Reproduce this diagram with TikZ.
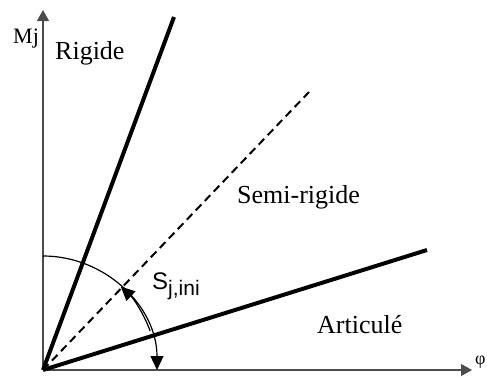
\documentclass[tikz,border=0pt]{standalone}
\usepackage{fontspec}
\setmainfont{Liberation Serif}
\newfontfamily\sansfont{Liberation Sans}
\usetikzlibrary{arrows.meta}

\begin{document}
\begin{tikzpicture}[x=1pt,y=1pt,
  axis/.style={draw=black!70,line width=1.2pt,-{Triangle[length=11pt,width=12pt]}},
  zone/.style={line width=4pt},
  middle/.style={line width=2pt,dash pattern=on 8pt off 5pt},
  arcline/.style={line width=1.2pt,-{Triangle[length=14pt,width=13pt]}},
  txt/.style={inner sep=0pt,anchor=base west,font=\fontsize{26}{28}\selectfont}]
\useasboundingbox (0,0) rectangle (487,376);
\coordinate (o) at (43,6);
\coordinate (ytip) at (43,366);
\coordinate (xtip) at (472,6);
\coordinate (rig) at (174,359);
\coordinate (semi) at (309,284);
\coordinate (art) at (427,126);
% axes
\draw[axis] (o) -- (ytip);
\draw[axis] (o) -- (xtip);
% zones
\draw[zone] (o) -- (rig);
\draw[middle] (o) -- (semi);
\draw[zone] (o) -- (art);
% rotation arc
\draw[arcline] ([shift={(90:114)}]o) arc[start angle=90,end angle=0,radius=114];
\draw[arcline] ([shift={(20:114)}]o) arc[start angle=20,end angle=47,radius=114];
% labels
\node[txt,font=\fontsize{22}{24}\selectfont] (mj) at (13,333) {Mj};
\node[txt] (rigide) at (55,317) {Rigide};
\node[txt] (semirigide) at (237,173) {Semi-rigide};
\node[txt] (articule) at (317,43) {Articulé};
\node[txt,font=\sansfont\fontsize{24}{26}\selectfont] (sjini) at (152,87)
  {S\raisebox{-6pt}{\fontsize{21}{23}\selectfont j,ini}};
\node[txt,font=\fontsize{18}{20}\selectfont] (phi) at (475,12) {φ};
\end{tikzpicture}
\end{document}
